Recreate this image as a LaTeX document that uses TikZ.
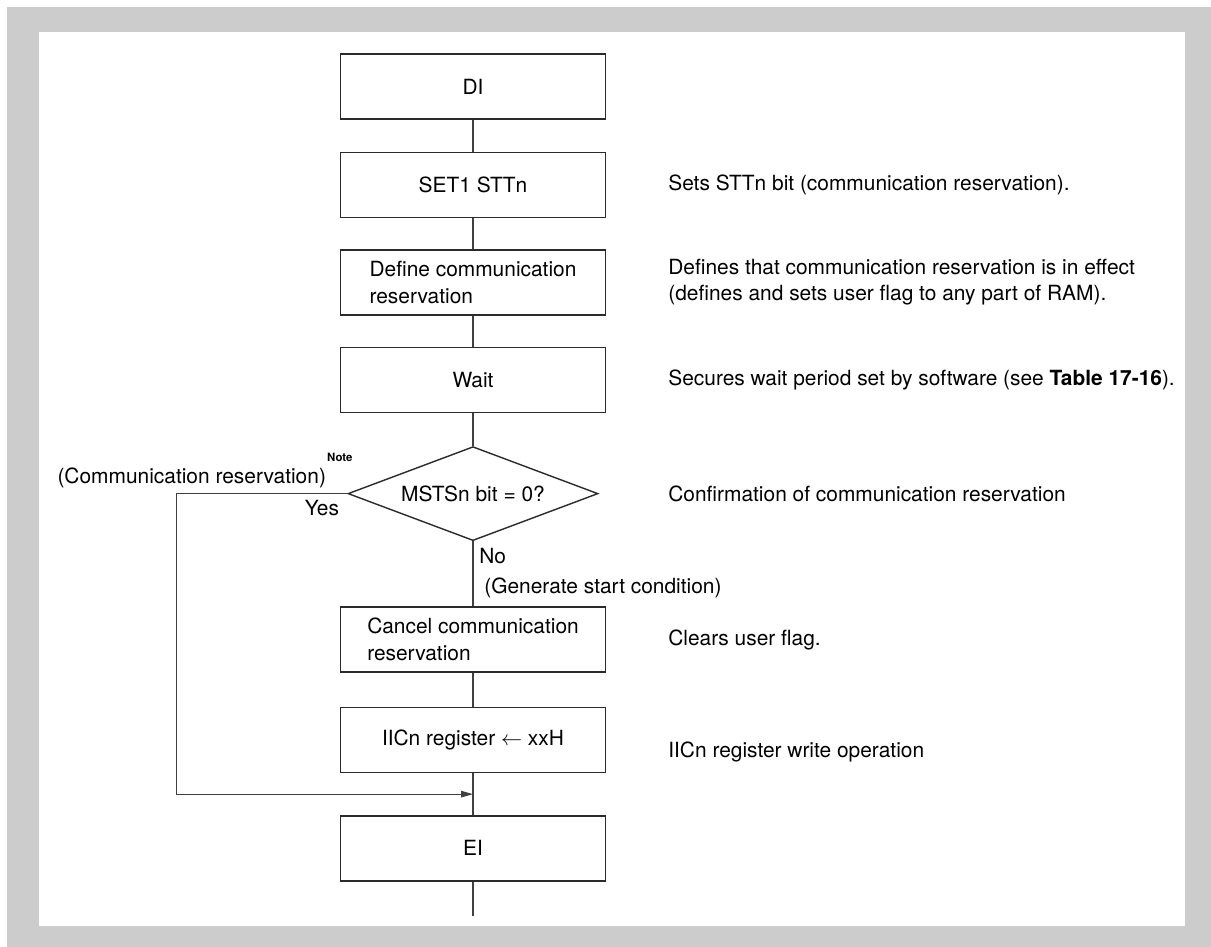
\documentclass[tikz,border=0pt]{standalone}
\usepackage{fontspec}
\setmainfont{TeX Gyre Heros}
\usetikzlibrary{arrows.meta,positioning,shapes.geometric,calc}
\definecolor{framegray}{HTML}{CCCCCC}
\definecolor{inkgray}{HTML}{2B2B2B}

\begin{document}
\begin{tikzpicture}[
  node distance=6.4mm,
  stepbox/.style={draw=inkgray, line width=0.8pt, minimum width=53mm, minimum height=13mm, align=left, font=\fontsize{11.9}{15.1}\selectfont, inner sep=2pt},
  decision/.style={draw=inkgray, line width=0.8pt, diamond, aspect=2.66, minimum width=50mm, minimum height=18.8mm, inner sep=0pt, font=\fontsize{11.9}{15.1}\selectfont},
  flow/.style={draw=black!75, line width=0.6pt},
  remark/.style={anchor=west, align=left, inner sep=0pt, font=\fontsize{11.9}{15.1}\selectfont},
  tag/.style={inner sep=0pt, font=\fontsize{11.9}{15.1}\selectfont}
]
\useasboundingbox (0,0) rectangle (24.22,-18.94);
\fill[framegray] (0.14,-0.14) rectangle (24.22,-18.94);
\fill[white] (0.78,-0.64) rectangle (23.70,-18.52);

\node[stepbox] (di) at (9.46,-1.73) {DI};
\node[stepbox, below=of di] (set1) {SET1 STTn};
\node[stepbox, below=6.2mm of set1] (define) {Define communication\\reservation};
\node[stepbox, below=6.2mm of define] (wait) {Wait};
\node[decision, below=6.6mm of wait] (mstsn) {MSTSn bit = 0?};
\node[stepbox, below=13mm of mstsn] (cancel) {Cancel communication\\reservation};
\node[stepbox, below=6.8mm of cancel] (iicn) {IICn register $\leftarrow$ xxH};
\node[stepbox, below=8.4mm of iicn] (ei) {EI};
\coordinate[below=6.8mm of ei] (exit);
\coordinate (join) at ($(iicn.south)!0.5!(ei.north)$);
\coordinate (bypass) at ([xshift=-34.2mm]mstsn.west);
\coordinate (notes) at (13.36,0);

\node[remark] (r-set1) at (set1 -| notes) {Sets STTn bit (communication reservation).};
\node[remark] (r-define) at (define -| notes) {Defines that communication reservation is in effect\\(defines and sets user flag to any part of RAM).};
\node[remark] (r-wait) at (wait -| notes) {Secures wait period set by software (see \textbf{Table 17-16}).};
\node[remark] (r-mstsn) at (mstsn -| notes) {Confirmation of communication reservation};
\node[remark] (r-cancel) at (cancel -| notes) {Clears user flag.};
\node[remark, yshift=-2.4mm] (r-iicn) at (iicn -| notes) {IICn register write operation};

\node[tag, anchor=base east] (yes) at ([xshift=-1.6mm, yshift=-4.4mm]mstsn.west) {Yes};
\node[tag, anchor=base east] (resv) at ([xshift=-4.2mm, yshift=2mm]mstsn.west) {(Communication reservation)};
\node[inner sep=0pt, anchor=base west, font=\fontsize{6.5}{7}\selectfont\bfseries] (note) at ([xshift=0.1mm, yshift=4.4mm]resv.base east) {Note};
\node[tag, anchor=base west] (no) at ([xshift=1.2mm, yshift=-4.4mm]mstsn.south) {No};
\node[tag, anchor=base west] (gen) at ([xshift=2.2mm, yshift=-10.4mm]mstsn.south) {(Generate start condition)};

\draw[flow] (di) -- (set1);
\draw[flow] (set1) -- (define);
\draw[flow] (define) -- (wait);
\draw[flow] (wait) -- (mstsn);
\draw[flow] (mstsn) -- (cancel);
\draw[flow] (cancel) -- (iicn);
\draw[flow] (iicn) -- (ei);
\draw[flow] (ei) -- (exit);
\draw[flow, -{Triangle[length=2.4mm, width=1.3mm]}] (mstsn.west) -- (bypass) |- (join);
\end{tikzpicture}
\end{document}
